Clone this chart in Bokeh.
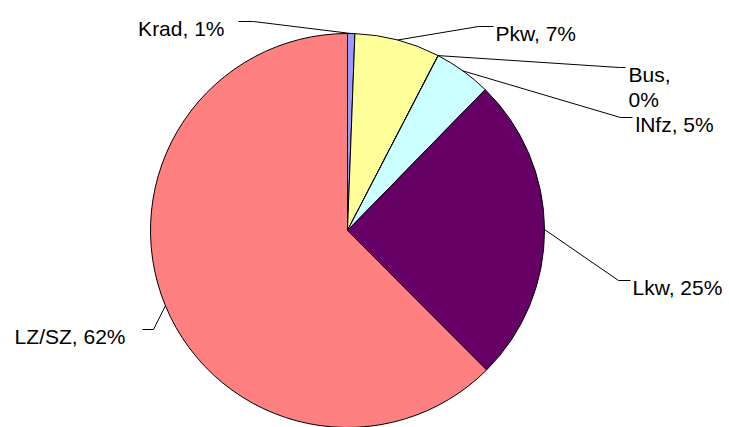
import math
from bokeh.plotting import figure
from bokeh.models import Range1d, ColumnDataSource
from bokeh.core.properties import value
from bokeh.embed import file_html
from bokeh.resources import INLINE

# ---- data ----
categories = ["Krad", "Pkw", "Bus", "lNfz", "Lkw", "LZ/SZ"]
shares = [0.6, 7.0, 0.02, 4.7, 25.2, 62.48]
colors = ["#9999FF", "#FFFF99", "#993366", "#CCFFFF", "#660066", "#FF8080"]

# ---- layout (page pixel coordinates) ----
W, H = 729, 427
PAGE_H = 427
cx, cy_page, R = 347, 230, 197

def py(y_page):
    return PAGE_H - y_page

cy = py(cy_page)

# label layout: (text x, align, baselines, knee, end) in page px
label_layout = {
    "Krad": (224, "right", [28], (253, 21), (238, 21)),
    "Pkw": (495, "left", [33], (478, 26), (493, 26)),
    "Bus": (628, "left", [74, 99], (619, 67), (625, 67)),
    "lNfz": (635, "left", [124], (620, 117), (632, 117)),
    "Lkw": (632, "left", [287], (618, 280), (630, 280)),
    "LZ/SZ": (125, "right", [336], (153, 329), (142, 329)),
}

total = sum(shares)
starts, ends, mids = [], [], []
cum = 0.0
for v in shares:
    a0 = math.pi / 2 - 2 * math.pi * cum / total
    cum += v
    a1 = math.pi / 2 - 2 * math.pi * cum / total
    starts.append(a0)
    ends.append(a1)
    mids.append((a0 + a1) / 2)

p = figure(width=W, height=H, output_backend="svg", toolbar_location=None,
           x_range=Range1d(0, W), y_range=Range1d(PAGE_H - H, PAGE_H),
           min_border=0)
p.axis.visible = False
p.grid.visible = False
p.outline_line_color = None
p.background_fill_color = "white"

src = ColumnDataSource(dict(start=starts, end=ends, color=colors))
p.wedge(x=cx, y=cy, radius=R, start_angle="start", end_angle="end",
        direction="clock", fill_color="color", line_color="black",
        line_width=1, source=src)

# leader lines
xs, ys = [], []
tx, ty, tt, ta = [], [], [], []
for cat, v, m in zip(categories, shares, mids):
    ex = cx + R * math.cos(m)
    ey = cy + R * math.sin(m)
    lx, align, bases, knee, end = label_layout[cat]
    xs.append([ex, knee[0], end[0]])
    ys.append([ey, py(knee[1]), py(end[1])])
    pct = f"{round(v)}%"
    if len(bases) == 1:
        lines = [f"{cat}, {pct}"]
    else:
        lines = [f"{cat},", pct]
    for line, b in zip(lines, bases):
        tx.append(lx)
        ty.append(py(b))
        tt.append(line)
        ta.append(align)

p.multi_line(xs=xs, ys=ys, line_color="black", line_width=1)

tsrc = ColumnDataSource(dict(x=tx, y=ty, text=tt, align=ta))
p.text(x="x", y="y", text="text", text_align="align", text_baseline="alphabetic",
       text_font=value("Liberation Sans"), text_font_size="21px",
       text_color="black", source=tsrc)

open("out.html", "w").write(file_html(p, INLINE))
